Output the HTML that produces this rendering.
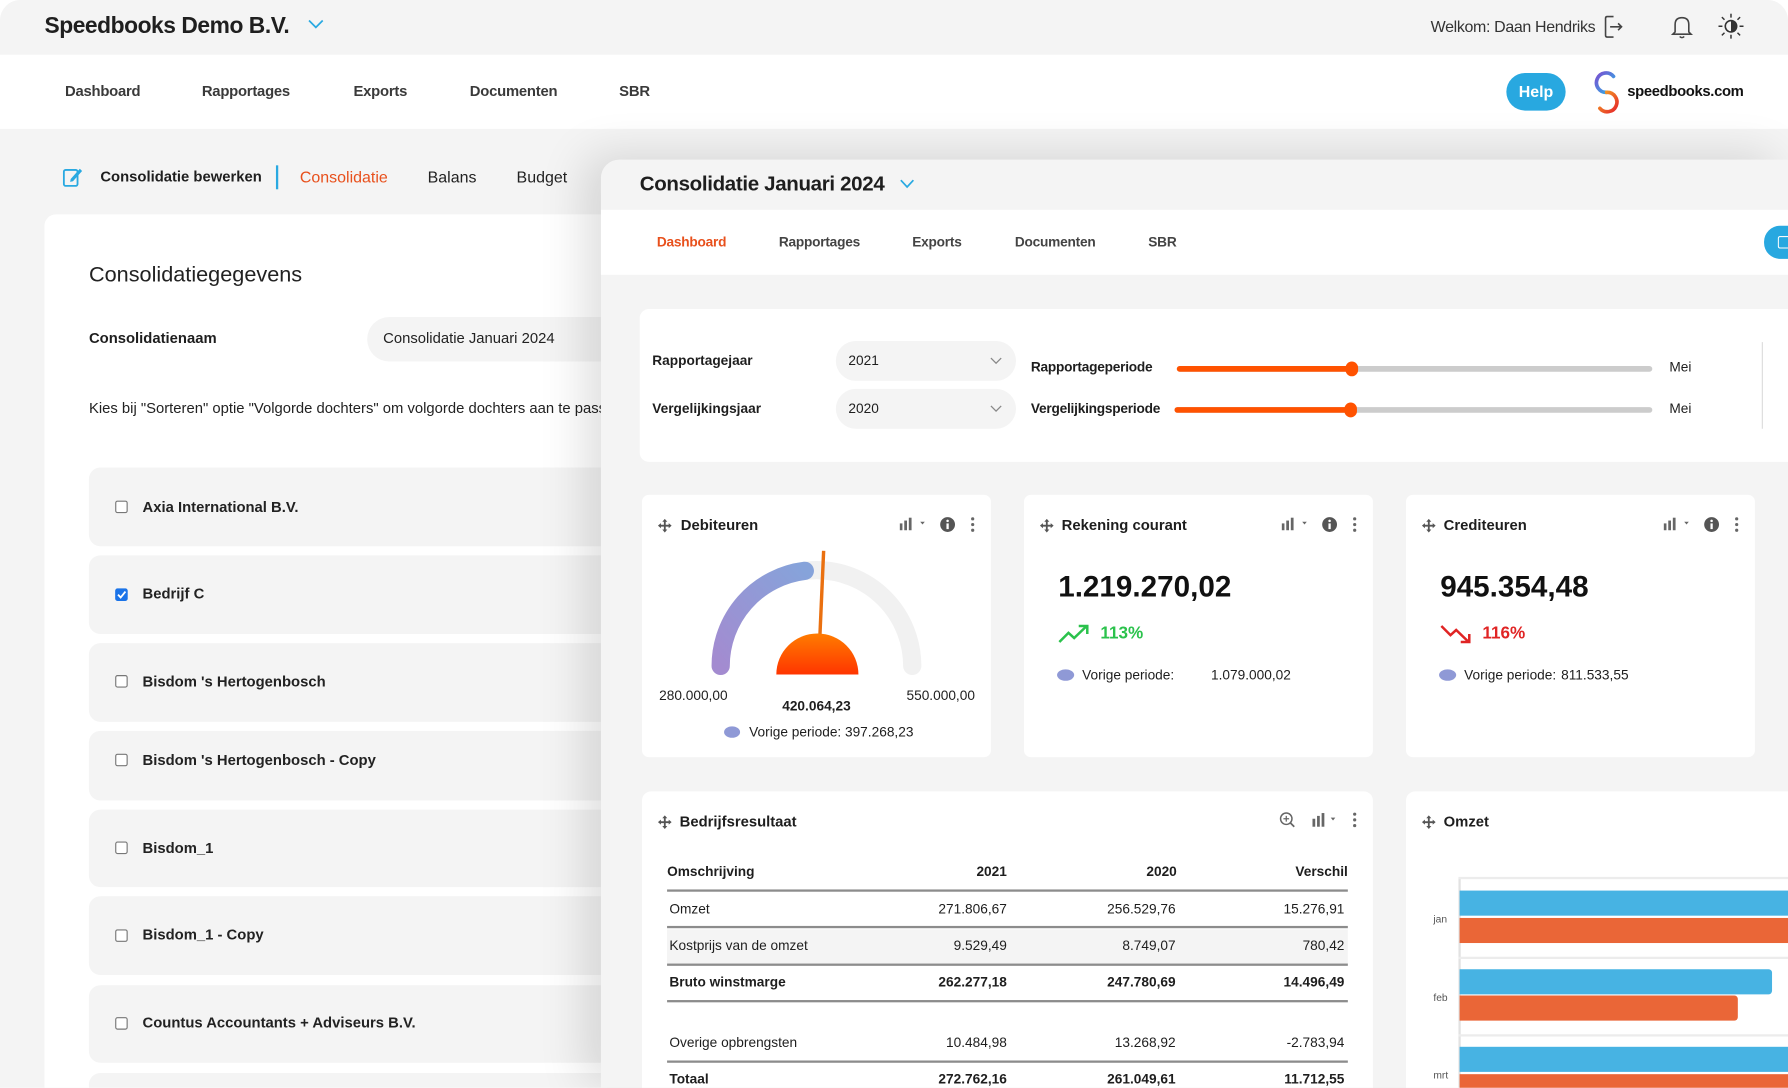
<!DOCTYPE html>
<html><head><meta charset="utf-8">
<style>
*{margin:0;padding:0;box-sizing:border-box}
html,body{width:1788px;height:1088px;overflow:hidden;background:#fff}
#w{position:absolute;left:0;top:0;width:1568px;height:954px;transform:scale(1.140306);transform-origin:0 0;overflow:hidden;background:#f4f4f4;border-radius:18px 18px 0 0;font-family:"Liberation Sans",Arial,sans-serif;color:#1e1e1e}
.a{position:absolute}
.t{position:absolute;white-space:nowrap;line-height:16px;height:16px}
.b{font-weight:bold}
.card{position:absolute;background:#fff;border-radius:8px}
.item{position:absolute;left:78px;width:449px;background:#f4f4f4;border-radius:10px 0 0 10px}
.cb{position:absolute;left:101px;width:11px;height:11px;border:1.3px solid #777;border-radius:2px;background:#fff}
.sel{position:absolute;background:#f4f4f4;border-radius:18px}
.line{position:absolute;left:585px;width:597px;height:2px;background:#8c8c8c}
</style></head><body>
<div id="w">
<!-- top bar -->
<div class="a" style="left:0;top:0;width:1568px;height:48px;background:#f4f4f4"></div>
<div class="t b" style="left:39px;top:12px;font-size:20px;line-height:22px;height:22px;color:#1f1f1f;letter-spacing:-0.4px">Speedbooks Demo B.V.</div>
<svg class="a" style="left:270px;top:17px" width="14" height="9"><polyline points="1,1 7,7 13,1" fill="none" stroke="#29a9e1" stroke-width="1.5"/></svg>
<div class="t" style="right:169px;top:15px;font-size:14px;color:#333;letter-spacing:-0.3px">Welkom: Daan Hendriks</div>
<svg class="a" style="left:1406px;top:13px" width="18" height="21"><path d="M9 1.5H3.5Q2 1.5 2 3V18Q2 19.5 3.5 19.5H9" fill="none" stroke="#444" stroke-width="1.4"/><line x1="6" y1="10.5" x2="16" y2="10.5" stroke="#444" stroke-width="1.4"/><polyline points="13,7.5 16,10.5 13,13.5" fill="none" stroke="#444" stroke-width="1.4"/></svg>
<svg class="a" style="left:1465px;top:12px" width="20" height="22"><path d="M4 16V9.5Q4 3.5 10 3.5Q16 3.5 16 9.5V16L18 18H2Z" fill="none" stroke="#444" stroke-width="1.4"/><path d="M8 20Q10 22 12 20" fill="none" stroke="#444" stroke-width="1.3"/></svg>
<svg class="a" style="left:1507px;top:12px" width="22" height="22"><circle cx="11" cy="11" r="5" fill="none" stroke="#333" stroke-width="1.4"/><path d="M11 6A5 5 0 0 1 11 16Z" fill="#333"/><g stroke="#333" stroke-width="1.3"><line x1="11" y1="0" x2="11" y2="3.5"/><line x1="11" y1="18.5" x2="11" y2="22"/><line x1="0" y1="11" x2="3.5" y2="11"/><line x1="18.5" y1="11" x2="22" y2="11"/><line x1="3" y1="3" x2="5.3" y2="5.3"/><line x1="16.7" y1="16.7" x2="19" y2="19"/><line x1="3" y1="19" x2="5.3" y2="16.7"/><line x1="16.7" y1="5.3" x2="19" y2="3"/></g></svg>
<!-- nav -->
<div class="a" style="left:0;top:48px;width:1568px;height:65px;background:#fff"></div>
<div class="t b" style="left:57px;top:72px;font-size:13px;color:#3a3a3a;letter-spacing:-0.2px">Dashboard</div>
<div class="t b" style="left:177px;top:72px;font-size:13px;color:#3a3a3a;letter-spacing:-0.2px">Rapportages</div>
<div class="t b" style="left:310px;top:72px;font-size:13px;color:#3a3a3a;letter-spacing:-0.2px">Exports</div>
<div class="t b" style="left:412px;top:72px;font-size:13px;color:#3a3a3a;letter-spacing:-0.2px">Documenten</div>
<div class="t b" style="left:543px;top:72px;font-size:13px;color:#3a3a3a;letter-spacing:-0.2px">SBR</div>
<div class="a b" style="left:1321px;top:64px;width:52px;height:33px;border-radius:17px;background:#28a8e0;color:#fff;font-size:14px;line-height:33px;text-align:center">Help</div>
<svg class="a" style="left:1397px;top:62px" width="26" height="38"><defs><linearGradient id="lg1" x1="0" y1="0" x2="1" y2="1"><stop offset="0" stop-color="#7a4fd0"/><stop offset="1" stop-color="#29b5e8"/></linearGradient><linearGradient id="lg2" x1="0" y1="0" x2="1" y2="1"><stop offset="0" stop-color="#f5a623"/><stop offset="1" stop-color="#e5252a"/></linearGradient></defs><path d="M18 5A8.5 8.5 0 1 0 12 19" fill="none" stroke="url(#lg1)" stroke-width="3.2" stroke-linecap="round"/><path d="M12 19A8.5 8.5 0 1 1 6 33" fill="none" stroke="url(#lg2)" stroke-width="3.2" stroke-linecap="round"/></svg>
<div class="t b" style="left:1427px;top:72px;font-size:13px;color:#111;letter-spacing:-0.3px">speedbooks.com</div>
<!-- subnav -->
<svg class="a" style="left:55px;top:146px" width="18" height="18"><rect x="1" y="3" width="12" height="14" rx="1.5" fill="none" stroke="#29a9e1" stroke-width="1.6"/><path d="M7 11L15 2L17 4L9 13L6.5 13.5Z" fill="#29a9e1"/></svg>
<div class="t b" style="left:88px;top:147px;font-size:13px;color:#1e1e1e">Consolidatie bewerken</div>
<div class="a" style="left:242px;top:145px;width:2px;height:21px;background:#29a9e1"></div>
<div class="t" style="left:263px;top:147px;font-size:14px;color:#e8501c">Consolidatie</div>
<div class="t" style="left:375px;top:147px;font-size:14px;color:#222">Balans</div>
<div class="t" style="left:453px;top:147px;font-size:14px;color:#222">Budget</div>
<!-- left card -->
<div class="card" style="left:39px;top:188px;width:488px;height:766px;border-radius:10px 0 0 0"></div>
<div class="t" style="left:78px;top:231px;font-size:19px;line-height:22px;height:22px;color:#222">Consolidatiegegevens</div>
<div class="t b" style="left:78px;top:289px;font-size:13px">Consolidatienaam</div>
<div class="sel" style="left:322px;top:278px;width:205px;height:39px;border-radius:20px 0 0 20px"></div>
<div class="t" style="left:336px;top:289px;font-size:13px;color:#222">Consolidatie Januari 2024</div>
<div class="t" style="left:78px;top:350px;font-size:13px;color:#222;width:449px;overflow:hidden">Kies bij "Sorteren" optie "Volgorde dochters" om volgorde dochters aan te passen.</div>
<div class="item" style="top:410px;height:69px"></div>
<div class="item" style="top:487px;height:69px"></div>
<div class="item" style="top:564px;height:69px"></div>
<div class="item" style="top:641px;height:61px"></div>
<div class="item" style="top:710px;height:68px"></div>
<div class="item" style="top:786px;height:69px"></div>
<div class="item" style="top:864px;height:68px"></div>
<div class="item" style="top:941px;height:13px;border-radius:10px 0 0 0"></div>
<div class="cb" style="top:439px"></div>
<div class="cb" style="top:516px;background:#1a73e8;border-color:#1a73e8"><svg width="9" height="9" style="position:absolute;left:0;top:0"><polyline points="1.5,4.5 3.8,7 8,1.8" fill="none" stroke="#fff" stroke-width="1.6"/></svg></div>
<div class="cb" style="top:592px"></div>
<div class="cb" style="top:661px"></div>
<div class="cb" style="top:738px"></div>
<div class="cb" style="top:815px"></div>
<div class="cb" style="top:892px"></div>
<div class="t b" style="left:125px;top:437px;font-size:13px;color:#222">Axia International B.V.</div>
<div class="t b" style="left:125px;top:513px;font-size:13px;color:#222">Bedrijf C</div>
<div class="t b" style="left:125px;top:590px;font-size:13px;color:#222">Bisdom 's Hertogenbosch</div>
<div class="t b" style="left:125px;top:659px;font-size:13px;color:#222">Bisdom 's Hertogenbosch - Copy</div>
<div class="t b" style="left:125px;top:736px;font-size:13px;color:#222">Bisdom_1</div>
<div class="t b" style="left:125px;top:812px;font-size:13px;color:#222">Bisdom_1 - Copy</div>
<div class="t b" style="left:125px;top:889px;font-size:13px;color:#222">Countus Accountants + Adviseurs B.V.</div>

<!-- right panel -->
<div class="a" style="left:527px;top:140px;width:1041px;height:814px;background:#f4f4f4;border-radius:16px 0 0 0;box-shadow:-14px -4px 40px rgba(0,0,0,0.13)"></div>
<div class="t b" style="left:561px;top:150px;font-size:18px;line-height:22px;height:22px;color:#1e1e1e;letter-spacing:-0.3px">Consolidatie Januari 2024</div>
<svg class="a" style="left:789px;top:157px" width="13" height="9"><polyline points="1,1 6.5,7 12,1" fill="none" stroke="#29a9e1" stroke-width="1.5"/></svg>
<div class="a" style="left:527px;top:184px;width:1041px;height:57px;background:#fff"></div>
<div class="t b" style="left:576px;top:204px;font-size:12px;color:#e8501c;letter-spacing:-0.2px">Dashboard</div>
<div class="t b" style="left:683px;top:204px;font-size:12px;color:#444;letter-spacing:-0.2px">Rapportages</div>
<div class="t b" style="left:800px;top:204px;font-size:12px;color:#444;letter-spacing:-0.2px">Exports</div>
<div class="t b" style="left:890px;top:204px;font-size:12px;color:#444;letter-spacing:-0.2px">Documenten</div>
<div class="t b" style="left:1007px;top:204px;font-size:12px;color:#444;letter-spacing:-0.2px">SBR</div>
<div class="a" style="left:1547px;top:198px;width:21px;height:29px;border-radius:14px 0 0 14px;background:#28a8e0"></div>
<div class="a" style="left:1559px;top:207px;width:9px;height:11px;border:1.5px solid #fff;border-right:none;border-radius:2px 0 0 2px"></div>

<!-- filter card -->
<div class="card" style="left:561px;top:271px;width:1007px;height:134px;border-radius:8px 0 0 8px"></div>
<div class="t b" style="left:572px;top:308px;font-size:12px">Rapportagejaar</div>
<div class="t b" style="left:572px;top:350px;font-size:12px">Vergelijkingsjaar</div>
<div class="sel" style="left:733px;top:299px;width:158px;height:35px"></div>
<div class="sel" style="left:733px;top:341px;width:158px;height:35px"></div>
<div class="t" style="left:744px;top:308px;font-size:12px">2021</div>
<div class="t" style="left:744px;top:350px;font-size:12px">2020</div>
<svg class="a" style="left:868px;top:313px" width="11" height="7"><polyline points="1,1 5.5,5.5 10,1" fill="none" stroke="#888" stroke-width="1.1"/></svg>
<svg class="a" style="left:868px;top:355px" width="11" height="7"><polyline points="1,1 5.5,5.5 10,1" fill="none" stroke="#888" stroke-width="1.1"/></svg>
<div class="t b" style="left:904px;top:314px;font-size:12px;letter-spacing:-0.2px">Rapportageperiode</div>
<div class="t b" style="left:904px;top:350px;font-size:12px;letter-spacing:-0.2px">Vergelijkingsperiode</div>
<div class="a" style="left:1032px;top:321px;width:417px;height:5px;border-radius:3px;background:#cccccc"></div>
<div class="a" style="left:1032px;top:321px;width:153px;height:5px;border-radius:3px;background:#ff5200"></div>
<div class="a" style="left:1180px;top:317px;width:11px;height:13px;border-radius:6px;background:#ff5200"></div>
<div class="a" style="left:1030px;top:357px;width:419px;height:5px;border-radius:3px;background:#cccccc"></div>
<div class="a" style="left:1030px;top:357px;width:154px;height:5px;border-radius:3px;background:#ff5200"></div>
<div class="a" style="left:1179px;top:353px;width:11px;height:13px;border-radius:6px;background:#ff5200"></div>
<div class="t" style="left:1464px;top:314px;font-size:12px">Mei</div>
<div class="t" style="left:1464px;top:350px;font-size:12px">Mei</div>
<div class="a" style="left:1545px;top:300px;width:1px;height:76px;background:#dcdcdc"></div>

<!-- KPI cards -->
<div class="card" style="left:563px;top:434px;width:306px;height:230px;border-radius:6px"></div>
<div class="card" style="left:898px;top:434px;width:306px;height:230px;border-radius:6px"></div>
<div class="card" style="left:1233px;top:434px;width:306px;height:230px;border-radius:6px"></div>

<!-- bottom cards -->
<div class="card" style="left:563px;top:694px;width:641px;height:260px;border-radius:8px 8px 0 0"></div>
<div class="card" style="left:1233px;top:694px;width:335px;height:260px;border-radius:8px 0 0 0"></div>

<!-- move icons -->
<svg class="a" style="left:577px;top:455px" width="12" height="12"><path d="M6 0L8.2 2.6H6.8V5.2H9.4V3.8L12 6L9.4 8.2V6.8H6.8V9.4H8.2L6 12L3.8 9.4H5.2V6.8H2.6V8.2L0 6L2.6 3.8V5.2H5.2V2.6H3.8Z" fill="#555"/></svg>
<svg class="a" style="left:912px;top:455px" width="12" height="12"><path d="M6 0L8.2 2.6H6.8V5.2H9.4V3.8L12 6L9.4 8.2V6.8H6.8V9.4H8.2L6 12L3.8 9.4H5.2V6.8H2.6V8.2L0 6L2.6 3.8V5.2H5.2V2.6H3.8Z" fill="#555"/></svg>
<svg class="a" style="left:1247px;top:455px" width="12" height="12"><path d="M6 0L8.2 2.6H6.8V5.2H9.4V3.8L12 6L9.4 8.2V6.8H6.8V9.4H8.2L6 12L3.8 9.4H5.2V6.8H2.6V8.2L0 6L2.6 3.8V5.2H5.2V2.6H3.8Z" fill="#555"/></svg>
<svg class="a" style="left:577px;top:715px" width="12" height="12"><path d="M6 0L8.2 2.6H6.8V5.2H9.4V3.8L12 6L9.4 8.2V6.8H6.8V9.4H8.2L6 12L3.8 9.4H5.2V6.8H2.6V8.2L0 6L2.6 3.8V5.2H5.2V2.6H3.8Z" fill="#555"/></svg>
<svg class="a" style="left:1247px;top:715px" width="12" height="12"><path d="M6 0L8.2 2.6H6.8V5.2H9.4V3.8L12 6L9.4 8.2V6.8H6.8V9.4H8.2L6 12L3.8 9.4H5.2V6.8H2.6V8.2L0 6L2.6 3.8V5.2H5.2V2.6H3.8Z" fill="#555"/></svg>

<div class="t b" style="left:597px;top:453px;font-size:13px">Debiteuren</div>
<div class="t b" style="left:931px;top:453px;font-size:13px">Rekening courant</div>
<div class="t b" style="left:1266px;top:453px;font-size:13px">Crediteuren</div>

<!-- card header icons -->
<svg class="a" style="left:789px;top:453px" width="70" height="15"><g fill="#666"><rect x="0" y="6" width="2.4" height="6"/><rect x="4" y="3.5" width="2.4" height="8.5"/><rect x="8" y="1" width="2.4" height="11"/><path d="M18 4.5L22 4.5L20 7Z"/></g><circle cx="42" cy="7" r="6.5" fill="#555"/><rect x="41" y="6" width="2" height="5" fill="#fff"/><circle cx="42" cy="3.8" r="1.1" fill="#fff"/><g fill="#666"><circle cx="64" cy="2" r="1.4"/><circle cx="64" cy="7" r="1.4"/><circle cx="64" cy="12" r="1.4"/></g></svg>
<svg class="a" style="left:1124px;top:453px" width="70" height="15"><g fill="#666"><rect x="0" y="6" width="2.4" height="6"/><rect x="4" y="3.5" width="2.4" height="8.5"/><rect x="8" y="1" width="2.4" height="11"/><path d="M18 4.5L22 4.5L20 7Z"/></g><circle cx="42" cy="7" r="6.5" fill="#555"/><rect x="41" y="6" width="2" height="5" fill="#fff"/><circle cx="42" cy="3.8" r="1.1" fill="#fff"/><g fill="#666"><circle cx="64" cy="2" r="1.4"/><circle cx="64" cy="7" r="1.4"/><circle cx="64" cy="12" r="1.4"/></g></svg>
<svg class="a" style="left:1459px;top:453px" width="70" height="15"><g fill="#666"><rect x="0" y="6" width="2.4" height="6"/><rect x="4" y="3.5" width="2.4" height="8.5"/><rect x="8" y="1" width="2.4" height="11"/><path d="M18 4.5L22 4.5L20 7Z"/></g><circle cx="42" cy="7" r="6.5" fill="#555"/><rect x="41" y="6" width="2" height="5" fill="#fff"/><circle cx="42" cy="3.8" r="1.1" fill="#fff"/><g fill="#666"><circle cx="64" cy="2" r="1.4"/><circle cx="64" cy="7" r="1.4"/><circle cx="64" cy="12" r="1.4"/></g></svg>

<!-- gauge -->
<svg class="a" style="left:563px;top:434px" width="306" height="230">
<defs>
<linearGradient id="gp" x1="0" y1="1" x2="1" y2="0"><stop offset="0" stop-color="#a38bd0"/><stop offset="1" stop-color="#86a3da"/></linearGradient>
<linearGradient id="go" x1="0" y1="0" x2="0" y2="1"><stop offset="0" stop-color="#ff7c00"/><stop offset="1" stop-color="#ff3500"/></linearGradient>
</defs>
<path d="M69 150A84 84 0 0 1 237 150" fill="none" stroke="#f1f1f1" stroke-width="16" stroke-linecap="round"/>
<path d="M69 150A84 84 0 0 1 142.8 66.6" fill="none" stroke="url(#gp)" stroke-width="16" stroke-linecap="round"/>
<line x1="156" y1="124" x2="159.3" y2="49" stroke="#ea7010" stroke-width="3"/>
<path d="M117.8 157.5A36 36 0 0 1 189.8 157.5Z" fill="url(#go)"/>
</svg>
<div class="t" style="left:578px;top:602px;font-size:12px">280.000,00</div>
<div class="t" style="right:713px;top:602px;font-size:12px">550.000,00</div>
<div class="t b" style="left:666px;width:100px;text-align:center;top:611px;font-size:12px">420.064,23</div>
<div class="a" style="left:635px;top:637px;width:14px;height:10px;border-radius:50%;background:#8f99d6"></div>
<div class="t" style="left:657px;top:634px;font-size:12px">Vorige periode:</div>
<div class="t" style="left:741px;top:634px;font-size:12px">397.268,23</div>

<!-- rekening courant -->
<div class="t b" style="left:928px;top:499px;font-size:26px;line-height:30px;height:30px;color:#111">1.219.270,02</div>
<svg class="a" style="left:928px;top:547px" width="28" height="18"><polyline points="1,16 9,8 14,12.5 25,2" fill="none" stroke="#2bc24c" stroke-width="2.2"/><polyline points="18,2 25.5,2 25.5,9" fill="none" stroke="#2bc24c" stroke-width="2.2"/></svg>
<div class="t b" style="left:965px;top:548px;font-size:15px;color:#2bc24c">113%</div>
<div class="a" style="left:927px;top:587px;width:15px;height:10px;border-radius:50%;background:#8f99d6"></div>
<div class="t" style="left:949px;top:584px;font-size:12px">Vorige periode:</div>
<div class="t" style="left:1062px;top:584px;font-size:12px">1.079.000,02</div>

<!-- crediteuren -->
<div class="t b" style="left:1263px;top:499px;font-size:26px;line-height:30px;height:30px;color:#111">945.354,48</div>
<svg class="a" style="left:1263px;top:547px" width="28" height="18"><polyline points="1,2 9,10 14,5.5 25,16" fill="none" stroke="#e02424" stroke-width="2.2"/><polyline points="25.5,9 25.5,16 18,16" fill="none" stroke="#e02424" stroke-width="2.2"/></svg>
<div class="t b" style="left:1300px;top:548px;font-size:15px;color:#e02424">116%</div>
<div class="a" style="left:1262px;top:587px;width:15px;height:10px;border-radius:50%;background:#8f99d6"></div>
<div class="t" style="left:1284px;top:584px;font-size:12px">Vorige periode:</div>
<div class="t" style="left:1369px;top:584px;font-size:12px">811.533,55</div>

<div class="t b" style="left:596px;top:713px;font-size:13px">Bedrijfsresultaat</div>
<div class="t b" style="left:1266px;top:713px;font-size:13px">Omzet</div>
<svg class="a" style="left:1122px;top:712px" width="72" height="16"><circle cx="6" cy="6" r="5" fill="none" stroke="#666" stroke-width="1.3"/><line x1="9.7" y1="9.7" x2="13" y2="13" stroke="#666" stroke-width="1.5"/><line x1="3.5" y1="6" x2="8.5" y2="6" stroke="#666" stroke-width="1.1"/><line x1="6" y1="3.5" x2="6" y2="8.5" stroke="#666" stroke-width="1.1"/><g fill="#666"><rect x="29" y="6" width="2.4" height="7"/><rect x="33" y="3.5" width="2.4" height="9.5"/><rect x="37" y="1" width="2.4" height="12"/><path d="M45 5L49 5L47 7.5Z"/><circle cx="66" cy="2" r="1.4"/><circle cx="66" cy="7" r="1.4"/><circle cx="66" cy="12" r="1.4"/></g></svg>

<!-- table -->
<div class="a" style="left:585px;top:815px;width:597px;height:31px;background:#f4f4f4"></div>
<div class="line" style="top:780px"></div>
<div class="line" style="top:812px"></div>
<div class="line" style="top:845px"></div>
<div class="line" style="top:877px"></div>
<div class="line" style="top:930px"></div>
<div class="t b" style="left:585px;top:756px;font-size:12px">Omschrijving</div>
<div class="t b" style="right:685px;top:756px;font-size:12px">2021</div>
<div class="t b" style="right:536px;top:756px;font-size:12px">2020</div>
<div class="t b" style="right:386px;top:756px;font-size:12px">Verschil</div>

<div class="t" style="left:587px;top:789px;font-size:12px">Omzet</div>
<div class="t" style="right:685px;top:789px;font-size:12px">271.806,67</div>
<div class="t" style="right:537px;top:789px;font-size:12px">256.529,76</div>
<div class="t" style="right:389px;top:789px;font-size:12px">15.276,91</div>

<div class="t" style="left:587px;top:821px;font-size:12px">Kostprijs van de omzet</div>
<div class="t" style="right:685px;top:821px;font-size:12px">9.529,49</div>
<div class="t" style="right:537px;top:821px;font-size:12px">8.749,07</div>
<div class="t" style="right:389px;top:821px;font-size:12px">780,42</div>

<div class="t b" style="left:587px;top:853px;font-size:12px">Bruto winstmarge</div>
<div class="t b" style="right:685px;top:853px;font-size:12px">262.277,18</div>
<div class="t b" style="right:537px;top:853px;font-size:12px">247.780,69</div>
<div class="t b" style="right:389px;top:853px;font-size:12px">14.496,49</div>

<div class="t" style="left:587px;top:906px;font-size:12px">Overige opbrengsten</div>
<div class="t" style="right:685px;top:906px;font-size:12px">10.484,98</div>
<div class="t" style="right:537px;top:906px;font-size:12px">13.268,92</div>
<div class="t" style="right:389px;top:906px;font-size:12px">-2.783,94</div>

<div class="t b" style="left:587px;top:938px;font-size:12px">Totaal</div>
<div class="t b" style="right:685px;top:938px;font-size:12px">272.762,16</div>
<div class="t b" style="right:537px;top:938px;font-size:12px">261.049,61</div>
<div class="t b" style="right:389px;top:938px;font-size:12px">11.712,55</div>

<!-- omzet chart -->
<div class="a" style="left:1279px;top:770px;width:1.5px;height:184px;background:#e2e2e2"></div>
<div class="a" style="left:1279px;top:769px;width:289px;height:1.5px;background:#ececec"></div>
<div class="a" style="left:1279px;top:839px;width:289px;height:1.5px;background:#ececec"></div>
<div class="a" style="left:1279px;top:907px;width:289px;height:1.5px;background:#ececec"></div>
<div class="a" style="left:1280px;top:781px;width:288px;height:21.5px;background:#47b3e3"></div>
<div class="a" style="left:1280px;top:805px;width:288px;height:22px;background:#ea6637"></div>
<div class="a" style="left:1280px;top:849.5px;width:274px;height:22px;background:#47b3e3;border-radius:0 3px 3px 0"></div>
<div class="a" style="left:1280px;top:873px;width:244px;height:22px;background:#ea6637;border-radius:0 3px 3px 0"></div>
<div class="a" style="left:1280px;top:918px;width:288px;height:22px;background:#47b3e3"></div>
<div class="a" style="left:1280px;top:941.6px;width:288px;height:12.4px;background:#ea6637"></div>
<div class="t" style="left:1257px;top:798px;font-size:9px;color:#555">jan</div>
<div class="t" style="left:1257px;top:867px;font-size:9px;color:#555">feb</div>
<div class="t" style="left:1257px;top:935px;font-size:9px;color:#555">mrt</div>
</div>
</body></html>
